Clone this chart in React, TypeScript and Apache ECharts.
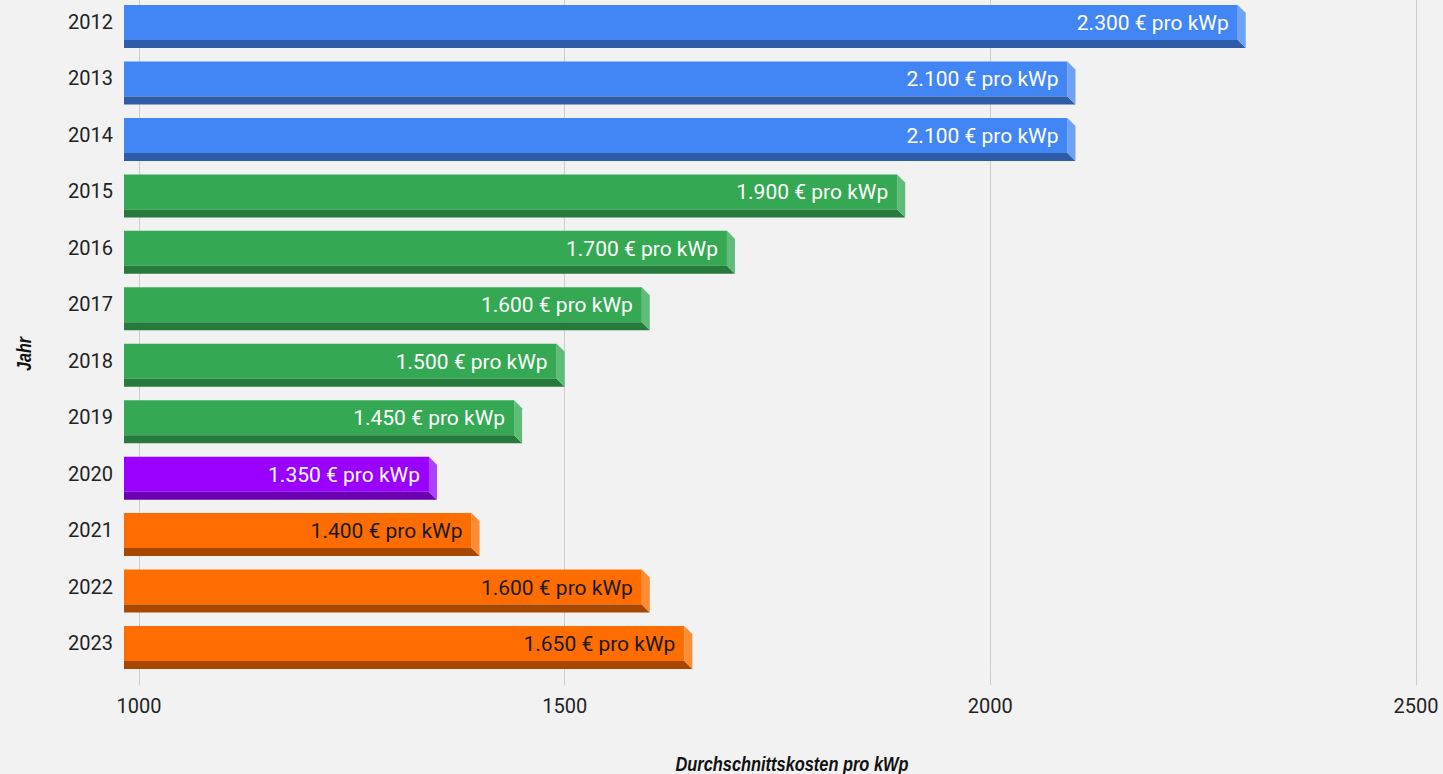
import React, { useEffect, useRef } from "react";
import * as echarts from "echarts";

const years = ["2012", "2013", "2014", "2015", "2016", "2017", "2018", "2019", "2020", "2021", "2022", "2023"];
const costs = [2300, 2100, 2100, 1900, 1700, 1600, 1500, 1450, 1350, 1400, 1600, 1650];
const groups = ["blue", "blue", "blue", "green", "green", "green", "green", "green", "purple", "orange", "orange", "orange"];
const labels = ["2.300 € pro kWp", "2.100 € pro kWp", "2.100 € pro kWp", "1.900 € pro kWp", "1.700 € pro kWp", "1.600 € pro kWp", "1.500 € pro kWp", "1.450 € pro kWp", "1.350 € pro kWp", "1.400 € pro kWp", "1.600 € pro kWp", "1.650 € pro kWp"];
const xTicks = { min: 1000, max: 2500, interval: 500 };

const palette: Record<string, { face: string; dark: string; light: string; text: string }> = {
  blue: { face: "#4285f4", dark: "#2e5ca6", light: "#6ea2f7", text: "#ffffff" },
  green: { face: "#34a853", dark: "#267a3c", light: "#5fbd78", text: "#ffffff" },
  purple: { face: "#9900ff", dark: "#6b00b3", light: "#b040ff", text: "#ffffff" },
  orange: { face: "#ff6d01", dark: "#a84800", light: "#ff8c33", text: "#1a1a1a" },
};

const OFF = 7; // container shifted up by this many px

export default function App() {
  const ref = useRef<HTMLDivElement>(null);
  useEffect(() => {
    if (!ref.current) return;
    const chart = echarts.init(ref.current, null, { renderer: "svg" });
    const data = costs.map((v, i) => [v, i]);
    const titleFont = {
      fontFamily: "Liberation Sans",
      fontWeight: "bold",
      fontStyle: "italic",
      fontSize: 20,
      fill: "#111111",
      align: "center",
      verticalAlign: "middle",
    };
    chart.setOption({
      animation: false,
      backgroundColor: "#f2f2f2",
      grid: { left: 139, right: 27, top: 0.8, bottom: 102.8 },
      xAxis: {
        type: "value",
        min: xTicks.min,
        max: xTicks.max,
        interval: xTicks.interval,
        axisLine: { show: false },
        axisTick: { show: true, length: 14, lineStyle: { color: "#cccccc" } },
        splitLine: { show: true, lineStyle: { color: "#cccccc", width: 1 } },
        axisLabel: {
          color: "#222222",
          fontFamily: "Roboto",
          fontSize: 20,
          margin: 25,
          formatter: (v: number) => String(v),
        },
      },
      yAxis: {
        type: "category",
        data: years,
        inverse: true,
        axisLine: { show: false },
        axisTick: { show: false },
        splitLine: { show: false },
        axisLabel: { color: "#222222", fontFamily: "Roboto", fontSize: 20, margin: 26 },
      },
      graphic: [
        {
          type: "text",
          x: 24,
          y: 354 + OFF,
          rotation: Math.PI / 2,
          scaleX: 0.8,
          style: { ...titleFont, text: "Jahr" },
        },
        {
          type: "text",
          x: 792,
          y: 764 + OFF,
          scaleX: 0.82,
          style: { ...titleFont, text: "Durchschnittskosten pro kWp" },
        },
      ],
      series: [
        {
          type: "custom",
          data,
          renderItem: (params: any, api: any) => {
            const v = api.value(0);
            const idx = api.value(1);
            const end = api.coord([v, idx]);
            const start = api.coord([xTicks.min, idx]);
            const xe = end[0];
            const yc = end[1];
            const x0 = start[0] - 15;
            const d = 8;
            const c = palette[groups[params.dataIndex]];
            const top = yc - 17;
            const faceB = yc + 18;
            return {
              type: "group",
              children: [
                {
                  type: "rect",
                  shape: { x: x0, y: top, width: xe - d - x0, height: faceB - top },
                  style: { fill: c.face },
                },
                {
                  type: "polygon",
                  shape: { points: [[x0, faceB], [xe - d, faceB], [xe, faceB + d], [x0, faceB + d]] },
                  style: { fill: c.dark },
                },
                {
                  type: "polygon",
                  shape: { points: [[xe - d, top], [xe, top + d], [xe, faceB + d], [xe - d, faceB]] },
                  style: { fill: c.light },
                },
                {
                  type: "text",
                  x: xe - d - 9,
                  y: yc + 1,
                  style: {
                    text: labels[params.dataIndex],
                    fill: c.text,
                    fontFamily: "Roboto",
                    fontSize: 21,
                    align: "right",
                    verticalAlign: "middle",
                  },
                },
              ],
            };
          },
        },
      ],
    });
    return () => chart.dispose();
  }, []);
  return (
    <div
      ref={ref}
      style={{ width: 1443, height: 774 + OFF, position: "absolute", left: 0, top: -OFF }}
    />
  );
}
